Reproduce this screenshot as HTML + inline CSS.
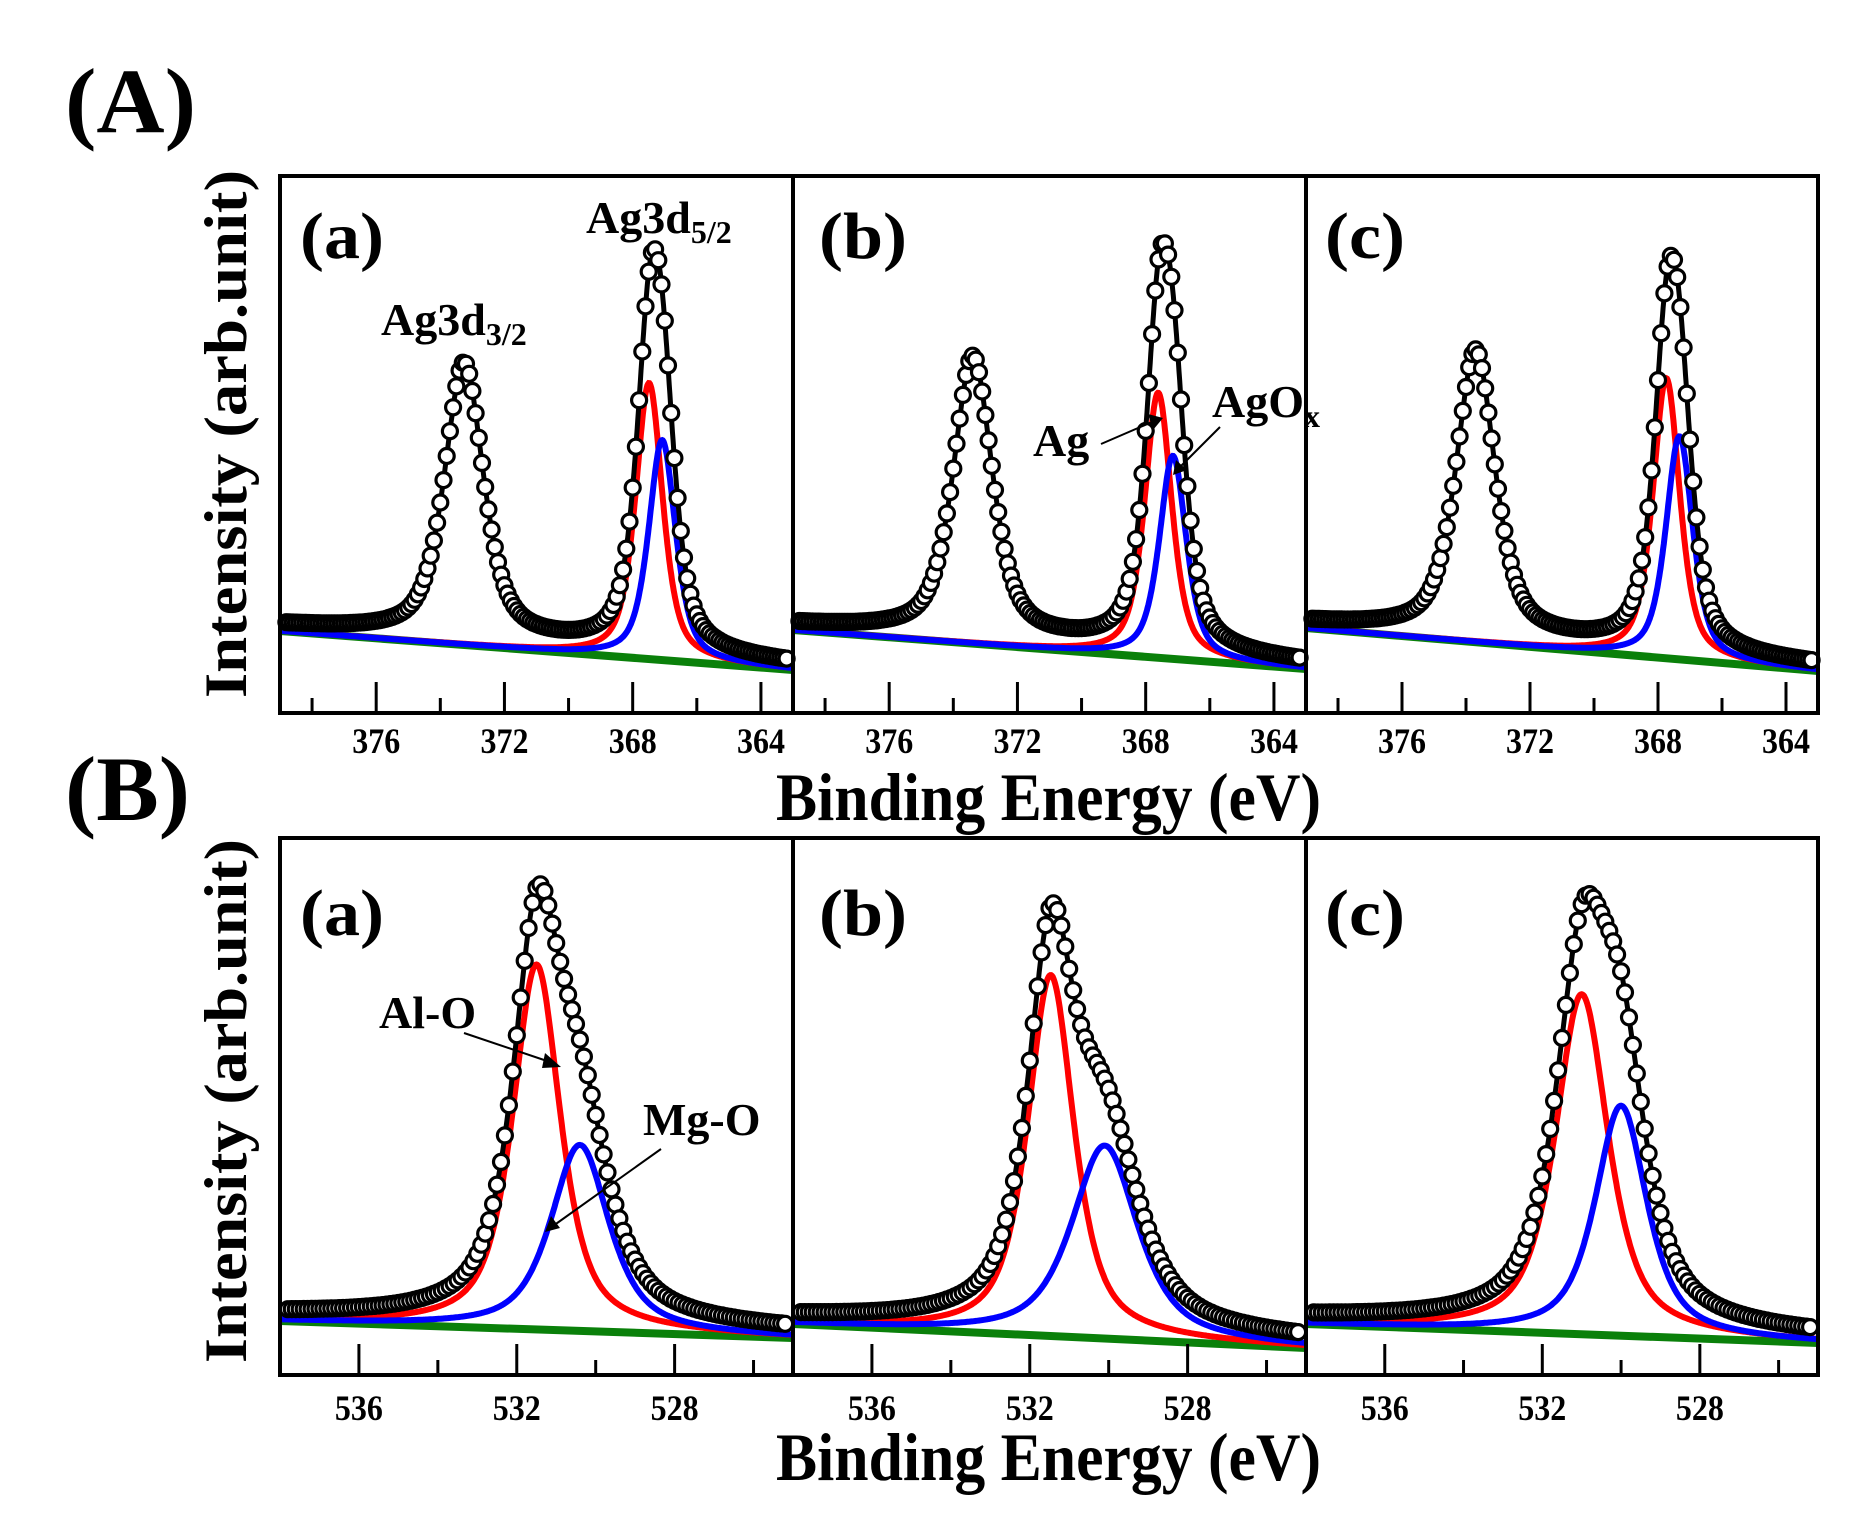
<!DOCTYPE html>
<html><head><meta charset="utf-8"><style>
html,body{margin:0;padding:0;background:#fff;}
svg{display:block;}
text{font-family:"Liberation Serif",serif;font-weight:bold;fill:#000;}
</style></head><body>
<svg id="s" width="1866" height="1521" viewBox="0 0 1866 1521" xmlns="http://www.w3.org/2000/svg">
<rect width="1866" height="1521" fill="#fff"/>
<g id="plots"></g>
<g fill="none" stroke="#000" stroke-width="4">
<rect x="280" y="176" width="1538" height="537"/>
<line x1="793" y1="176" x2="793" y2="713"/><line x1="1306" y1="176" x2="1306" y2="713"/>
<rect x="280" y="838" width="1538" height="537"/>
<line x1="793" y1="838" x2="793" y2="1375"/><line x1="1306" y1="838" x2="1306" y2="1375"/>
</g>
<g id="ticks" stroke="#000" stroke-width="3"></g>
<g id="tl"></g>
<text x="65" y="132" font-size="92" textLength="131" lengthAdjust="spacingAndGlyphs">(A)</text>
<text x="65" y="820" font-size="92" textLength="125" lengthAdjust="spacingAndGlyphs">(B)</text>
<text transform="translate(246,434) rotate(-90)" text-anchor="middle" font-size="60" textLength="528" lengthAdjust="spacingAndGlyphs">Intensity (arb.unit)</text>
<text transform="translate(246,1101) rotate(-90)" text-anchor="middle" font-size="60" textLength="524" lengthAdjust="spacingAndGlyphs">Intensity (arb.unit)</text>
<text x="776" y="820" font-size="68" textLength="545" lengthAdjust="spacingAndGlyphs">Binding Energy (eV)</text>
<text x="776" y="1480" font-size="68" textLength="545" lengthAdjust="spacingAndGlyphs">Binding Energy (eV)</text>
<g font-size="66">
<text x="300" y="258" textLength="84" lengthAdjust="spacingAndGlyphs">(a)</text>
<text x="819" y="258" textLength="88" lengthAdjust="spacingAndGlyphs">(b)</text>
<text x="1325" y="258" textLength="80" lengthAdjust="spacingAndGlyphs">(c)</text>
<text x="300" y="935" textLength="84" lengthAdjust="spacingAndGlyphs">(a)</text>
<text x="819" y="935" textLength="88" lengthAdjust="spacingAndGlyphs">(b)</text>
<text x="1325" y="935" textLength="80" lengthAdjust="spacingAndGlyphs">(c)</text>
</g>
<g id="plots2"></g>
<g font-size="46">
<text x="381" y="335">Ag3d<tspan font-size="32" dy="10">3/2</tspan></text>
<text x="586" y="233">Ag3d<tspan font-size="32" dy="10">5/2</tspan></text>
<text x="1033" y="456">Ag</text>
<text x="1212" y="417">AgO<tspan font-size="32" dy="10">x</tspan></text>
<text x="379" y="1028">Al-O</text>
<text x="643" y="1135">Mg-O</text>
</g>
<g stroke="#000" stroke-width="2" fill="none">
<line x1="1101" y1="444" x2="1152" y2="422"/>
<line x1="1220" y1="427" x2="1180" y2="467"/>
<line x1="464" y1="1033" x2="550" y2="1062"/>
<line x1="661" y1="1149" x2="553" y2="1226"/>
</g>
<g fill="#000">
<polygon points="1163,418 1148,414 1153,430"/>
<polygon points="1173,475 1176,460 1187,470"/>
<polygon points="561,1067 545,1053 542,1068"/>
<polygon points="545,1232 551,1216 560,1228"/>
</g>
</svg>
<script>
(function(){
var NS="http://www.w3.org/2000/svg";
function pv(E,E0,w,eta){var x=(E-E0)/w;return eta/(1+x*x)+(1-eta)*Math.exp(-Math.LN2*x*x);}
var panels=[
{x0:280,x1:793,Emax:379,Emin:363,gL:631,gR:670,off:6,eta:0.6,k:0.93,extra:[[373.26,0.72,275]],red:[367.49,0.5,276],blue:[367.08,0.5,220]},
{x0:793,x1:1306,Emax:379,Emin:363,gL:630,gR:669,off:6,eta:0.6,k:1.03,extra:[[373.39,0.72,280]],red:[367.61,0.5,265],blue:[367.15,0.5,203]},
{x0:1306,x1:1818,Emax:379,Emin:363,gL:628,gR:671,off:6,eta:0.6,k:0.9,extra:[[373.7,0.72,285]],red:[367.74,0.5,280],blue:[367.33,0.5,223]},
{x0:280,x1:793,Emax:538,Emin:525,gL:1321,gR:1338,off:7,eta:0.7,k:1,extra:[],red:[531.5,0.72,365],blue:[530.4,0.88,186]},
{x0:793,x1:1306,Emax:538,Emin:525,gL:1324,gR:1348,off:7,eta:0.7,k:1,extra:[],red:[531.47,0.7,361],blue:[530.1,1.0,193]},
{x0:1306,x1:1818,Emax:538,Emin:525,gL:1324,gR:1343,off:7,eta:0.7,k:1,extra:[],red:[531.0,0.8,340],blue:[530.0,0.78,230]}
];
var g=document.getElementById("plots");
function el(n,a){var e=document.createElementNS(NS,n);for(var k in a)e.setAttribute(k,a[k]);return e;}
panels.forEach(function(p){
  function X(E){return p.x0+(p.Emax-E)/(p.Emax-p.Emin)*(p.x1-p.x0);}
  function G(E){var t=(X(E)-p.x0)/(p.x1-p.x0);return p.gL+t*(p.gR-p.gL);}
  function D(E){var r=p.red[2]*pv(E,p.red[0],p.red[1],p.eta),b=p.blue[2]*pv(E,p.blue[0],p.blue[1],p.eta);
    var d=(r+b)*p.k+p.off;p.extra.forEach(function(q){d+=q[2]*pv(E,q[0],q[1],p.eta);});return d;}
  var step=0.02, rP="",bP="",dP="",pts=[];
  for(var E=p.Emax;E>=p.Emin-1e-9;E-=step){
    var x=X(E).toFixed(1);
    var r=p.red[2]*pv(E,p.red[0],p.red[1],p.eta);
    var b=p.blue[2]*pv(E,p.blue[0],p.blue[1],p.eta);
    var gy=G(E);
    rP+=(rP?"L":"M")+x+","+(gy-r).toFixed(1);
    bP+=(bP?"L":"M")+x+","+(gy-b).toFixed(1);
    dP+=(dP?"L":"M")+x+","+(gy-D(E)).toFixed(1);
  }
  for(var E2=p.Emax;E2>=p.Emin-1e-9;E2-=0.1){pts.push([X(E2),G(E2)-D(E2)]);}
  g.appendChild(el("line",{x1:p.x0,y1:p.gL,x2:p.x1,y2:p.gR,stroke:"#0a800a","stroke-width":8}));
  g.appendChild(el("path",{d:rP,fill:"none",stroke:"#ff0000","stroke-width":6}));
  g.appendChild(el("path",{d:bP,fill:"none",stroke:"#0000ff","stroke-width":6}));
  g.appendChild(el("path",{d:dP,fill:"none",stroke:"#000","stroke-width":5}));
  pts.forEach(function(q){
    if(q[0]<p.x0+4||q[0]>p.x1-4)return;
    g.appendChild(el("circle",{cx:q[0].toFixed(1),cy:q[1].toFixed(1),r:7.5,fill:"#fff",stroke:"#000","stroke-width":3.2}));
  });
  var tk=document.getElementById("ticks"),tl=document.getElementById("tl");
  var bottom=p.Emax>500?1375:713;
  for(var T=Math.floor(p.Emax);T>p.Emin;T--){
    if(T%2)continue;
    var xx=X(T); if(xx<p.x0+3||xx>p.x1-3)continue;
    var major=(T%4===0);
    tk.appendChild(el("line",{x1:xx,y1:bottom-(major?31:15),x2:xx,y2:bottom}));
    if(major){var t=el("text",{x:xx,y:bottom+(p.Emax>500?45:40),"text-anchor":"middle","font-size":"36",textLength:"48",lengthAdjust:"spacingAndGlyphs"});t.textContent=T;tl.appendChild(t);}
  }
});
})();
</script>
</body></html>
